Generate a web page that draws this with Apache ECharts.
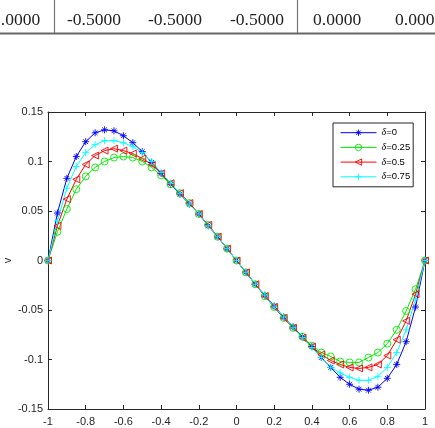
<!DOCTYPE html>
<html>
<head>
<meta charset="utf-8">
<script src="https://cdn.jsdelivr.net/npm/echarts@6/dist/echarts.min.js"></script>
<style>
html,body{margin:0;padding:0;background:#fff;}
#chart{width:435px;height:428px;}
</style>
</head>
<body>
<div id="chart"></div>
<script>
// ---- data ----
var xs = [-1,-0.95,-0.9,-0.85,-0.8,-0.75,-0.7,-0.65,-0.6,-0.55,-0.5,-0.45,-0.4,-0.35,-0.3,-0.25,-0.2,-0.15,-0.1,-0.05,0,
          0.05,0.1,0.15,0.2,0.25,0.3,0.35,0.4,0.45,0.5,0.55,0.6,0.65,0.7,0.75,0.8,0.85,0.9,0.95,1];
var seriesNames = ['δ=0','δ=0.25','δ=0.5','δ=0.75'];
var vDelta0 = [0,0.048,0.083,0.105,0.120,0.129,0.132,0.131,0.126,0.119,0.110,0.099,0.088,0.077,0.067,0.057,0.047,0.035,0.024,0.012,0,
          -0.012,-0.024,-0.035,-0.046,-0.057,-0.067,-0.077,-0.087,-0.098,-0.108,-0.118,-0.125,-0.130,-0.131,-0.128,-0.119,-0.105,-0.082,-0.047,0];
var vDelta025 = [0,0.029,0.052,0.072,0.085,0.094,0.100,0.104,0.105,0.104,0.100,0.094,0.086,0.077,0.068,0.058,0.047,0.036,0.024,0.012,0,
          -0.012,-0.024,-0.036,-0.047,-0.058,-0.068,-0.077,-0.086,-0.093,-0.097,-0.102,-0.103,-0.103,-0.098,-0.093,-0.084,-0.070,-0.051,-0.029,0];
var vDelta05 = [0,0.035,0.062,0.082,0.097,0.106,0.111,0.113,0.111,0.108,0.103,0.097,0.088,0.078,0.068,0.058,0.047,0.036,0.024,0.012,0,
          -0.012,-0.024,-0.036,-0.047,-0.058,-0.068,-0.078,-0.087,-0.095,-0.101,-0.105,-0.108,-0.109,-0.108,-0.105,-0.096,-0.080,-0.061,-0.034,0];
var vDelta075 = [0,0.040,0.073,0.095,0.109,0.117,0.121,0.121,0.119,0.115,0.109,0.100,0.089,0.078,0.068,0.057,0.047,0.035,0.024,0.012,0,
          -0.012,-0.024,-0.035,-0.047,-0.057,-0.068,-0.078,-0.088,-0.098,-0.108,-0.1135,-0.118,-0.121,-0.121,-0.117,-0.108,-0.093,-0.070,-0.039,0];
var tableCells = ['0.0000','-0.5000','-0.5000','-0.5000','0.0000','0.0000'];
var yAxisName = 'v';

// ---- build ----
function pairs(v){ return xs.map(function(x,i){ return [x, v[i]]; }); }
var colors = ['#0000ff','#00ee00','#ff0000','#00ffff'];
var symbols = [
  'path://M5,0L5,10M0,5L10,5M1.6,1.6L8.4,8.4M8.4,1.6L1.6,8.4',
  'path://M10,5A5,5,0,1,1,0,5A5,5,0,1,1,10,5Z',
  'path://M0,5L10,0L10,10Z',
  'path://M5,0L5,10M0,5L10,5'
];
var allVals = [vDelta0, vDelta025, vDelta05, vDelta075];
var series = allVals.map(function(v,i){
  return {
    name: seriesNames[i], type:'line', data: pairs(v),
    symbol: symbols[i], symbolSize: 7,
    showAllSymbol: true, animation:false,
    lineStyle:{color:colors[i], width:1},
    itemStyle:{color:'rgba(0,0,0,0)', borderColor:colors[i], borderWidth:0.9},
    emphasis:{disabled:true}
  };
});

var font = '"Liberation Sans", Arial, Helvetica, sans-serif';
var axisCol = '#262626';
var tableX = [-8, 67, 148, 230, 313, 395];
var graphic = tableCells.map(function(t,i){
  return {type:'text', x: tableX[i], y: 20, silent:true,
    style:{text:t, font:'17.5px "Liberation Serif", "Times New Roman", serif', fill:'#222', align:'left', verticalAlign:'middle'}};
});
graphic.push({type:'line', shape:{x1:0,y1:33.5,x2:435,y2:33.5}, style:{stroke:'#666', lineWidth:2}, silent:true});
graphic.push({type:'line', shape:{x1:54.5,y1:0,x2:54.5,y2:33},   style:{stroke:'#777', lineWidth:1.2}, silent:true});
graphic.push({type:'line', shape:{x1:297.5,y1:0,x2:297.5,y2:33}, style:{stroke:'#777', lineWidth:1.2}, silent:true});

function fmt(v){ return String(Math.round(v*100)/100); }

var chart = echarts.init(document.getElementById('chart'), null, {renderer:'canvas'});
chart.setOption({
  animation:false,
  backgroundColor:'#fff',
  graphic: graphic,
  grid:{left:48, right:10, top:112, bottom:19, containLabel:false, outerBoundsMode:'none'},
  legend:{
    orient:'vertical', left:333, top:123,
    data: seriesNames,
    itemWidth:36, itemHeight:8, itemGap:4.7,
    padding:[4.7,3,5,7],
    backgroundColor:'#fff', borderColor:'#262626', borderWidth:1,
    lineStyle:{width:1},
    itemStyle:{borderWidth:0.9},
    textStyle:{fontFamily:font, fontSize:9.5, color:'#000', lineHeight:8,
      rich:{i:{fontStyle:'italic', fontFamily:'"Liberation Serif", serif', fontSize:10, color:'#000', lineHeight:8},
            t:{fontFamily:font, fontSize:9.5, color:'#000', lineHeight:8}}},
    formatter:function(n){ return '{i|δ}{t|' + n.slice(1) + '}'; }
  },
  xAxis:[{
    type:'value', min:-1, max:1, interval:0.2,
    axisLine:{show:true, onZero:false, lineStyle:{color:axisCol, width:1}},
    axisTick:{show:true, inside:true, length:4, lineStyle:{color:axisCol}},
    axisLabel:{fontFamily:font, fontSize:11, color:axisCol, margin:7, formatter:fmt},
    splitLine:{show:false}
  },{
    type:'value', position:'top', min:-1, max:1, interval:0.2,
    axisLine:{show:true, onZero:false, lineStyle:{color:axisCol, width:1}},
    axisTick:{show:true, inside:true, length:4, lineStyle:{color:axisCol}},
    axisLabel:{show:false}, splitLine:{show:false}
  }],
  yAxis:[{
    type:'value', min:-0.15, max:0.15, interval:0.05,
    name: yAxisName, nameLocation:'middle', nameGap:35, nameMoveOverlap:false,
    nameTextStyle:{fontFamily:font, fontSize:11, color:axisCol},
    axisLine:{show:true, onZero:false, lineStyle:{color:axisCol, width:1}},
    axisTick:{show:true, inside:true, length:4, lineStyle:{color:axisCol}},
    axisLabel:{fontFamily:font, fontSize:11, color:axisCol, margin:5, formatter:fmt},
    splitLine:{show:false}
  },{
    type:'value', position:'right', min:-0.15, max:0.15, interval:0.05,
    axisLine:{show:true, onZero:false, lineStyle:{color:axisCol, width:1}},
    axisTick:{show:true, inside:true, length:4, lineStyle:{color:axisCol}},
    axisLabel:{show:false}, splitLine:{show:false}
  }],
  series: series
});
</script>
</body>
</html>
